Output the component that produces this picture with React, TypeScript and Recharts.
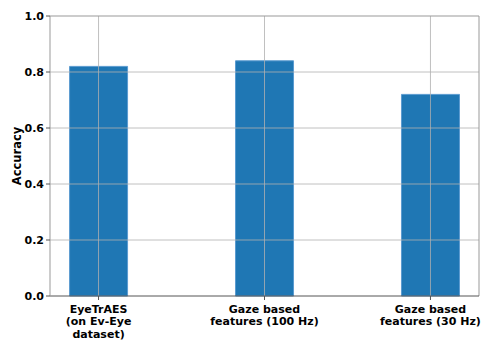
import React from 'react';
import { BarChart, Bar, XAxis, YAxis, ReferenceLine } from 'recharts';

const categories = ['EyeTrAES\n(on Ev-Eye\ndataset)', 'Gaze based\nfeatures (100 Hz)', 'Gaze based\nfeatures (30 Hz)'];
const accuracy = [0.82, 0.84, 0.72];
const yTicks = [0, 0.2, 0.4, 0.6, 0.8, 1.0];
const xTicks = [0, 1, 2];

const data = categories.map((c, i) => ({ x: i, name: c, value: accuracy[i] }));

const FONT = '"DejaVu Sans", sans-serif';

const XTick = (props: any) => {
  const { x, y, payload } = props;
  const lines = categories[payload.value]?.split('\n') ?? [];
  return (
    <text x={x} y={y} textAnchor="middle" fontFamily={FONT} fontWeight="bold" fontSize={11} fill="#000">
      {lines.map((l: string, i: number) => (
        <tspan key={i} x={x} dy={i === 0 ? 10.5 : 12.6}>{l}</tspan>
      ))}
    </text>
  );
};

const YLabel = (props: any) => {
  const { viewBox } = props;
  const cy = viewBox.y + viewBox.height / 2;
  const cx = 17;
  return (
    <text x={cx} y={cy} transform={`rotate(-90 ${cx} ${cy})`} textAnchor="middle" dominantBaseline="central"
      fontFamily={FONT} fontWeight="bold" fontSize={11.5} fill="#000">Accuracy</text>
  );
};

export default function App() {
  return (
    <div style={{ position: 'absolute', left: 0, top: 0, background: '#fff' }}>
      <BarChart width={498} height={349} data={data} margin={{ top: 16, right: 19, bottom: 0, left: 0 }}>
        <XAxis
          dataKey="x"
          type="number"
          domain={[-0.2925, 2.2925]}
          ticks={xTicks}
          tick={<XTick />}
          height={53}
          interval={0}
          allowDataOverflow
          tickSize={4}
          axisLine={{ stroke: '#555', strokeWidth: 1 }}
          tickLine={{ stroke: '#555' }}
        />
        <YAxis
          type="number"
          domain={[0, 1]}
          ticks={yTicks}
          width={50}
          tickFormatter={(v: number) => v.toFixed(1)}
          tick={{ fontFamily: FONT, fontWeight: 'bold', fontSize: 11, fill: '#000' }}
          tickSize={4}
          axisLine={{ stroke: '#999' }}
          tickLine={{ stroke: '#555' }}
          label={<YLabel />}
        />
        <Bar dataKey="value" fill="#1f77b4" stroke="#5b9bd0" strokeWidth={1} barSize={58} isAnimationActive={false} />
        {yTicks.slice(1, -1).map((v) => (
          <ReferenceLine key={'h' + v} y={v} stroke="#b0b0b0" strokeWidth={0.8} />
        ))}
        {xTicks.map((v) => (
          <ReferenceLine key={'v' + v} x={v} stroke="#b0b0b0" strokeWidth={0.8} />
        ))}
        <ReferenceLine y={1} stroke="#999" ifOverflow="visible" />
        <ReferenceLine x={2.2925} stroke="#999" ifOverflow="visible" />
      </BarChart>
    </div>
  );
}
